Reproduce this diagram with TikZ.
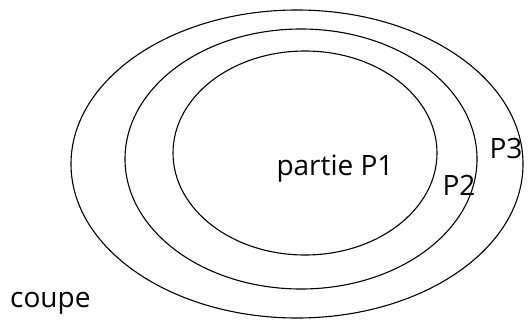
\documentclass[tikz,border=0pt]{standalone}
\usepackage{fontspec}
\setmainfont{Open Sans}
\begin{document}
\begin{tikzpicture}[x=1pt, y=-1pt, every node/.style={font=\fontsize{28}{31}\selectfont, inner sep=0pt}]
  % Frame of the picture
  \useasboundingbox (0,0) rectangle (529,324);

  % Nested parts of the section
  \draw[line width=1.1pt] (297,164) ellipse [x radius=226pt, y radius=154pt];
  \draw[line width=1.1pt] (301,159) ellipse [x radius=176pt, y radius=130pt];
  \draw[line width=1.1pt] (305,153) ellipse [x radius=132pt, y radius=102pt];

  % Labels
  \node[anchor=base] (p1) at (335,175) {partie P1};
  \node[anchor=base] (p2) at (459,195) {P2};
  \node[anchor=base] (p3) at (506,158) {P3};
  \node[anchor=base west] (coupe) at (10,307) {coupe};
\end{tikzpicture}
\end{document}
